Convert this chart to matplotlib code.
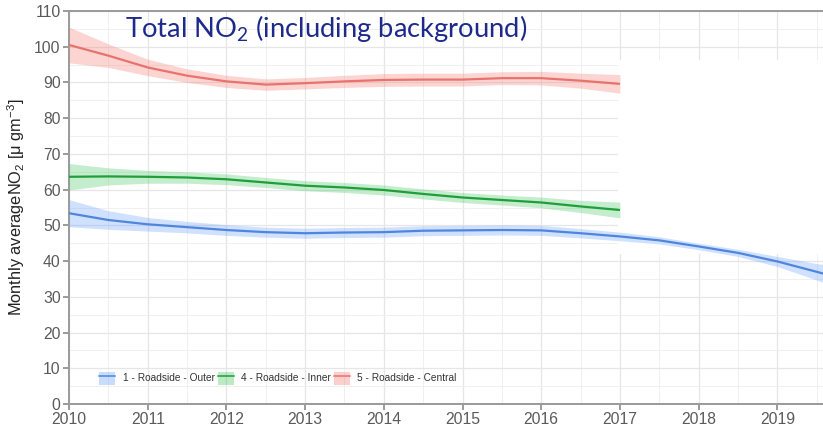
import matplotlib
matplotlib.use("Agg")
import matplotlib.pyplot as plt
from matplotlib.patches import Patch, Rectangle
from matplotlib.lines import Line2D
from matplotlib.ticker import MultipleLocator

# ---- data: smoothed monthly-average NO2 with confidence half-widths ----
years_short = [2010.0, 2010.5, 2011.0, 2011.5, 2012.0, 2012.5, 2013.0, 2013.5,
               2014.0, 2014.5, 2015.0, 2015.5, 2016.0, 2016.5, 2017.0]
central = [100.5, 97.5, 94.2, 91.9, 90.3, 89.4, 89.8, 90.3,
           90.7, 90.8, 90.8, 91.2, 91.2, 90.5, 89.6]
central_ci = [5.0, 3.3, 2.3, 1.9, 1.7, 1.6, 1.6, 1.7,
              1.8, 1.8, 1.8, 1.8, 1.9, 2.1, 2.6]
inner = [63.6, 63.7, 63.6, 63.4, 62.9, 62.0, 61.1, 60.6,
         59.9, 58.8, 57.8, 57.1, 56.4, 55.3, 54.3]
inner_ci = [3.7, 2.4, 1.8, 1.6, 1.5, 1.4, 1.4, 1.4,
            1.4, 1.4, 1.4, 1.4, 1.5, 1.7, 2.2]

years_long = [2010.0, 2010.5, 2011.0, 2011.5, 2012.0, 2012.5, 2013.0, 2013.5,
              2014.0, 2014.5, 2015.0, 2015.5, 2016.0, 2016.5, 2017.0, 2017.5,
              2018.0, 2018.5, 2019.0, 2019.5, 2019.6]
outer = [53.4, 51.5, 50.3, 49.5, 48.7, 48.1, 47.8, 48.0,
         48.1, 48.5, 48.6, 48.7, 48.6, 47.8, 46.9, 45.8,
         44.1, 42.3, 39.9, 37.0, 36.4]
outer_ci = [3.8, 2.6, 1.9, 1.6, 1.5, 1.4, 1.4, 1.4,
            1.4, 1.4, 1.4, 1.4, 1.4, 1.3, 1.2, 1.0,
            0.9, 1.0, 1.4, 2.3, 2.6]

labels = ["1 - Roadside - Outer", "4 - Roadside - Inner", "5 - Roadside - Central"]
year_ticks = list(range(2010, 2020))

plt.rcParams["font.family"] = ["Liberation Sans", "DejaVu Sans"]

fig = plt.figure(figsize=(8.23, 4.28), dpi=100)
left, bottom, top = 69 / 823, 1 - 404 / 428, 1 - 11 / 428
ax = fig.add_axes([left, bottom, 1 - left, top - bottom])

series = [
    (years_long, outer, outer_ci, "#4f86dc", "#619cff"),
    (years_short, inner, inner_ci, "#1f9e3a", "#3cc55a"),
    (years_short, central, central_ci, "#e8736c", "#f8766d"),
]

handles = []
for (xs, ys, ci, lc, fc), lab in zip(series, labels):
    lo = [y - c for y, c in zip(ys, ci)]
    hi = [y + c for y, c in zip(ys, ci)]
    ax.fill_between(xs, lo, hi, color=fc, alpha=0.3, lw=0, zorder=3)
    ax.plot(xs, ys, color=lc, lw=1.6, zorder=4, solid_capstyle="butt",
            solid_joinstyle="round")
    handles.append((Patch(facecolor=fc, alpha=0.35, edgecolor="none"),
                    Line2D([], [], color=lc, lw=1.1)))

# blank panel region to the right of 2017
ax.add_patch(Rectangle((2016.97, 42.0), 3.0, 54.2, facecolor="white",
                       edgecolor="none", zorder=2))

ax.set_xlim(2010, 2019.58)
ax.set_ylim(0, 110)
ax.set_xticks(year_ticks)
ax.xaxis.set_minor_locator(MultipleLocator(0.5))
ax.yaxis.set_major_locator(MultipleLocator(10))
ax.yaxis.set_minor_locator(MultipleLocator(5))
ax.grid(which="major", color="#e6e6e6", lw=0.9)
ax.grid(which="minor", color="#f0f0f0", lw=0.7)
ax.set_axisbelow(True)

for side in ("left", "bottom", "top"):
    ax.spines[side].set_color("#9a9a9a")
    ax.spines[side].set_linewidth(1.4)
ax.spines["right"].set_visible(False)

ax.tick_params(which="major", direction="out", length=4, width=1.2,
               color="#8a8a8a", labelcolor="#5a5a5a", labelsize=11.3, pad=2)
ax.tick_params(which="minor", length=0)

ax.set_ylabel(r"Monthly averageNO$\mathregular{_2}$ [μ gm$\mathregular{^{-3}}$]",
              fontsize=11.8, color="#222222", labelpad=5)

ax.legend(handles, labels, loc="center left", bbox_to_anchor=(0.028, 0.066),
          ncol=3, frameon=False, fontsize=7.3, handlelength=1.6,
          handleheight=1.6, handletextpad=0.7, columnspacing=0.3,
          labelcolor="#333333")

fig.text(125 / 823, 1 - 37 / 428, r"Total NO$\mathregular{_2}$ (including background)",
         family=["Lato", "DejaVu Sans"], fontsize=19.7, color="#1d2a8c",
         va="baseline", ha="left", zorder=10)

fig.savefig("out.png", dpi=100)
